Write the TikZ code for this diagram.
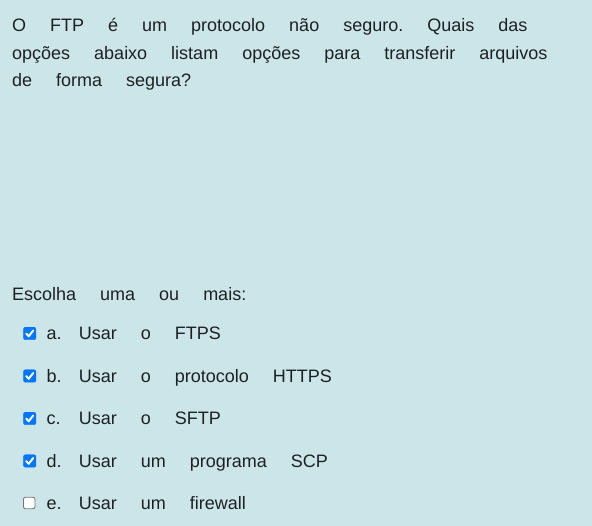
\documentclass[tikz,border=0pt]{standalone}
\usepackage{fontspec}
\setmainfont{Liberation Sans}
\definecolor{bgcol}{RGB}{204,229,233}
\definecolor{txtcol}{RGB}{29,33,37}
\definecolor{boxblue}{RGB}{0,117,255}
\definecolor{boxgray}{RGB}{118,118,118}
\newcommand{\quizfont}{\fontsize{18}{22}\selectfont\frenchspacing\spaceskip=24pt\relax}

\begin{document}
\begin{tikzpicture}[x=1pt,y=-1pt,
  txt/.style={anchor=base west,inner sep=0pt,text=txtcol,font=\quizfont},
  boxon/.style={draw=boxblue,fill=boxblue,rounded corners=2pt,minimum size=12.5pt,inner sep=0pt},
  boxoff/.style={draw=boxgray,fill=white,rounded corners=2pt,minimum size=11.5pt,line width=0.9pt,inner sep=0pt},
  tick/.style={white,line width=2pt,line cap=round,line join=round}]
\fill[bgcol] (0,0) rectangle (592,526);
\useasboundingbox (0,0) rectangle (592,526);
% question
\node[txt] (q1) at (12,32) {O FTP é um protocolo não seguro. Quais das};
\node[txt] (q2) at (12,59.5) {opções abaixo listam opções para transferir arquivos};
\node[txt] (q3) at (12,87) {de forma segura?};
\node[txt] (esc) at (12,301) {Escolha uma ou mais:};
% options
\node[boxon] (ca) at (29.7,333.5) {};
\draw[tick] ([shift={(-3.5,0)}]ca.center) -- ++(2.5,2.8) -- ++(4.5,-5.8);
\node[txt] (la) at (46.5,340) {a.};
\node[txt] (oa) at (78.6,340) {Usar o FTPS};
\node[boxon] (cb) at (29.7,376) {};
\draw[tick] ([shift={(-3.5,0)}]cb.center) -- ++(2.5,2.8) -- ++(4.5,-5.8);
\node[txt] (lb) at (46.5,382.5) {b.};
\node[txt] (ob) at (78.6,382.5) {Usar o protocolo HTTPS};
\node[boxon] (cc) at (29.7,418.5) {};
\draw[tick] ([shift={(-3.5,0)}]cc.center) -- ++(2.5,2.8) -- ++(4.5,-5.8);
\node[txt] (lc) at (46.5,425) {c.};
\node[txt] (oc) at (78.6,425) {Usar o SFTP};
\node[boxon] (cd) at (29.7,461) {};
\draw[tick] ([shift={(-3.5,0)}]cd.center) -- ++(2.5,2.8) -- ++(4.5,-5.8);
\node[txt] (ld) at (46.5,467.5) {d.};
\node[txt] (od) at (78.6,467.5) {Usar um programa SCP};
\node[boxoff] (ce) at (29.2,503) {};
\node[txt] (le) at (46.5,510) {e.};
\node[txt] (oe) at (78.6,510) {Usar um firewall};
\end{tikzpicture}
\end{document}
